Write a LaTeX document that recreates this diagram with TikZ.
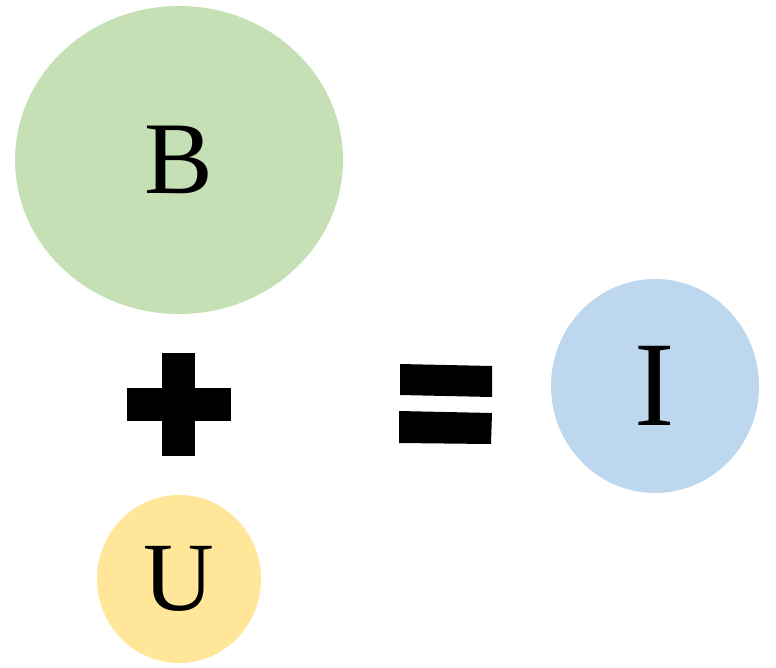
\documentclass[tikz,border=0pt]{standalone}
\usepackage{fontspec}
\setmainfont{Liberation Serif}
\usetikzlibrary{shapes.geometric}
\definecolor{BClr}{HTML}{C5E0B4}
\definecolor{IClr}{HTML}{BDD7EE}
\definecolor{UClr}{HTML}{FFE699}

\tikzset{
  blob/.style={ellipse,inner sep=0pt,draw=none,text=black},
  sign/.style={fill=black,draw=none}
}

\begin{document}
\begin{tikzpicture}[x=1pt,y=-1pt]
\useasboundingbox (0,0) rectangle (776,667);

\node[blob,fill=BClr,minimum width=328,minimum height=308,font=\fontsize{103}{103}\selectfont] (B) at (179,160) {B};
\node[blob,fill=UClr,minimum width=164,minimum height=168,font=\fontsize{98}{98}\selectfont] (U) at (179,579) {U};
\node[blob,fill=IClr,minimum width=208,minimum height=214,font=\fontsize{121}{121}\selectfont] (I) at (655,386) {I};

% plus
\fill[sign] (162,353) rectangle (195,456);
\fill[sign] (127,388) rectangle (231,421);

% equals
\fill[sign] (400,364) -- (492,366) -- (492,397) -- (400,395) -- cycle;
\fill[sign] (399,411) -- (492,413) -- (491,444) -- (399,443) -- cycle;

\end{tikzpicture}
\end{document}
